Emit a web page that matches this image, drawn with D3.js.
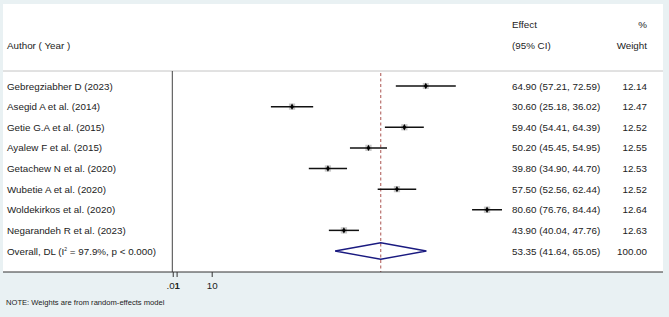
<!DOCTYPE html>
<html>
<head>
<meta charset="utf-8">
<script src="https://cdn.jsdelivr.net/npm/d3@7"></script>
<style>
  body { margin: 0; background: #e9f1f3; }
  text { font-family: "Liberation Sans", Arial, sans-serif; fill: #222; }
</style>
</head>
<body>
<div id="chart-area"></div>
<script>

// DATA
let authors = ["Gebregziabher D (2023)", "Asegid A et al.  (2014)", "Getie G.A et al. (2015)",
	"Ayalew F et al. (2015)", "Getachew N et al.  (2020)", "Wubetie A et al.  (2020)",
	"Woldekirkos et al.  (2020)", "Negarandeh R et al. (2023)"];
let effects = [64.90, 30.60, 59.40, 50.20, 39.80, 57.50, 80.60, 43.90];
let lower = [57.21, 25.18, 54.41, 45.45, 34.90, 52.56, 76.76, 40.04];
let upper = [72.59, 36.02, 64.39, 54.95, 44.70, 62.44, 84.44, 47.76];
let weights = [12.14, 12.47, 12.52, 12.55, 12.53, 12.52, 12.64, 12.63];

let overall = {effect: 53.35, lower: 41.64, upper: 65.05, weight: 100.00};
let tickValues = [0.01, 1, 10];
let tickLabels = [".01", "1", "10"];

// CHART AREA
let W = 669, H = 317;
let fs = 9.8;
let svg = d3.select("#chart-area").append("svg")
	.attr("width", W)
	.attr("height", H);

let panel = {left: 3, right: 663, top: 4, bottom: 272};

svg.append("rect")
	.attr("x", panel.left)
	.attr("y", panel.top)
	.attr("width", panel.right - panel.left)
	.attr("height", panel.bottom - panel.top)
	.attr("fill", "#fff");

// scales
let x = d3.scaleLinear().domain([0, 10]).range([172.7, 211.7]);
let y = d3.scaleLinear().domain([0, 8]).range([86, 251]);

let fmt = d3.format(".2f");

// header
svg.append("text").attr("x", 7).attr("y", 48.5).attr("font-size", fs).text("Author ( Year )");
svg.append("text").attr("x", 512).attr("y", 27.5).attr("font-size", fs).text("Effect");
svg.append("text").attr("x", 512).attr("y", 48.5).attr("font-size", fs).text("(95% CI)");
svg.append("text").attr("x", 647).attr("y", 27.5).attr("font-size", fs).attr("text-anchor", "end").text("%");
svg.append("text").attr("x", 647).attr("y", 48.5).attr("font-size", fs).attr("text-anchor", "end").text("Weight");

// top separator
svg.append("line")
	.attr("x1", panel.left).attr("x2", panel.right)
	.attr("y1", 71).attr("y2", 71)
	.attr("stroke", "#c4c4c4").attr("stroke-width", 1);

// null line (left axis at zero)
svg.append("line")
	.attr("x1", x(0) - 0.4).attr("x2", x(0) - 0.4)
	.attr("y1", 71).attr("y2", panel.bottom)
	.attr("stroke", "#444").attr("stroke-width", 1);

// overall dashed line
svg.append("line")
	.attr("x1", x(overall.effect)).attr("x2", x(overall.effect))
	.attr("y1", 73).attr("y2", panel.bottom)
	.attr("stroke", "#a0413c").attr("stroke-width", 0.9)
	.attr("stroke-dasharray", "3,2.5");

// study rows
let study = svg.selectAll(".study")
	.data(effects)
	.enter()
	.append("g")
	.attr("class", "study");

study.append("rect")
	.attr("x", (d, i) => x(d) - weights[i] / 4)
	.attr("y", (d, i) => y(i) - weights[i] / 4)
	.attr("width", (d, i) => weights[i] / 2)
	.attr("height", (d, i) => weights[i] / 2)
	.attr("fill", "#c8c8c8");

study.append("line")
	.attr("x1", (d, i) => x(lower[i]))
	.attr("x2", (d, i) => x(upper[i]))
	.attr("y1", (d, i) => y(i))
	.attr("y2", (d, i) => y(i))
	.attr("stroke", "#111").attr("stroke-width", 1.5);

study.append("path")
	.attr("d", d3.symbol().type(d3.symbolDiamond).size(12))
	.attr("transform", (d, i) => "translate(" + x(d) + "," + y(i) + ")")
	.attr("fill", "#000");

study.append("text")
	.attr("x", 7).attr("y", (d, i) => y(i) + 3.5)
	.attr("font-size", fs)
	.text((d, i) => authors[i]);

study.append("text")
	.attr("x", 512).attr("y", (d, i) => y(i) + 3.5)
	.attr("font-size", fs)
	.text((d, i) => fmt(d) + " (" + fmt(lower[i]) + ", " + fmt(upper[i]) + ")");

study.append("text")
	.attr("x", 647).attr("y", (d, i) => y(i) + 3.5)
	.attr("font-size", fs).attr("text-anchor", "end")
	.text((d, i) => fmt(weights[i]));

// overall diamond
let oy = y(authors.length);
svg.append("path")
	.attr("d", "M" + x(overall.lower) + "," + oy +
		"L" + x(overall.effect) + "," + (oy - 8.3) +
		"L" + x(overall.upper) + "," + oy +
		"L" + x(overall.effect) + "," + (oy + 8.3) + "Z")
	.attr("fill", "none")
	.attr("stroke", "#1a1a80").attr("stroke-width", 1.4);

let ol = svg.append("text").attr("x", 7).attr("y", oy + 3.5).attr("font-size", fs);
ol.append("tspan").text("Overall, DL (I");
ol.append("tspan").attr("font-size", 5).attr("dy", -4).text("2");
ol.append("tspan").attr("dy", 4).text(" = 97.9%, p < 0.000)");

svg.append("text")
	.attr("x", 512).attr("y", oy + 3.5).attr("font-size", fs)
	.text(fmt(overall.effect) + " (" + fmt(overall.lower) + ", " + fmt(overall.upper) + ")");
svg.append("text")
	.attr("x", 647).attr("y", oy + 3.5).attr("font-size", fs).attr("text-anchor", "end")
	.text(fmt(overall.weight));

// x axis
let xAxis = d3.axisBottom(x)
	.tickValues(tickValues)
	.tickFormat((d, i) => tickLabels[i])
	.tickSize(5)
	.tickPadding(5);

let xAxisGroup = svg.append("g")
	.attr("class", "x-axis axis")
	.attr("transform", "translate(0," + panel.bottom + ")")
	.call(xAxis);

xAxisGroup.select(".domain").remove();
xAxisGroup.selectAll(".tick line").attr("stroke", "#333");
xAxisGroup.selectAll(".tick text")
	.attr("font-size", fs)
	.attr("fill", "#222")
	.style("font-family", "'Liberation Sans', Arial, sans-serif");

svg.append("line")
	.attr("x1", panel.left).attr("x2", panel.right)
	.attr("y1", panel.bottom).attr("y2", panel.bottom)
	.attr("stroke", "#333").attr("stroke-width", 1);

svg.append("text")
	.attr("x", 6).attr("y", 304.5)
	.attr("font-size", 7.6)
	.text("NOTE: Weights are from random-effects model");

</script>
</body>
</html>
